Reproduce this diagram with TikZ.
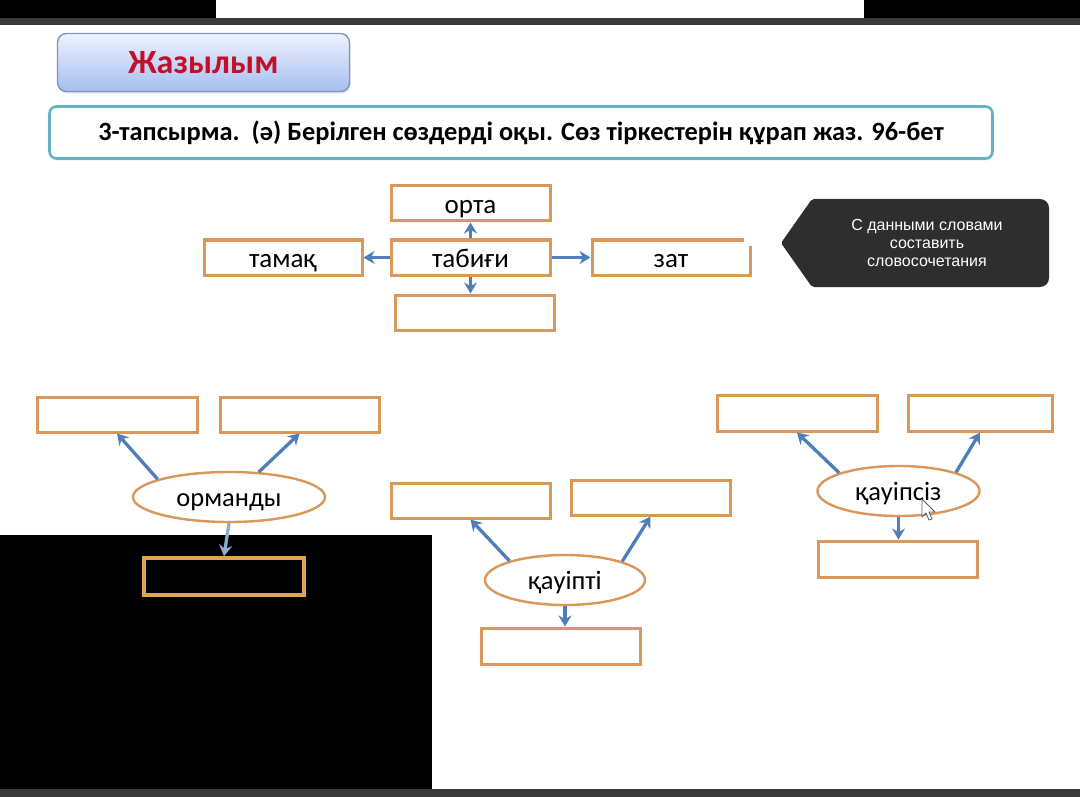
\documentclass[tikz,border=0pt]{standalone}
\usepackage{fontspec}
\setmainfont{Carlito}
\newfontfamily\tipfont{Liberation Sans}
\usetikzlibrary{shapes.geometric,arrows.meta,calc,shadows}
\definecolor{boxor}{HTML}{D9975A}
\definecolor{arrb}{HTML}{4F7FBA}
\definecolor{tipc}{HTML}{2E2E2E}
\definecolor{barc}{HTML}{3A3A3A}
\definecolor{titred}{HTML}{C0102A}
\definecolor{tealb}{HTML}{62B4C4}
\definecolor{gtop}{HTML}{EEF2FC}
\definecolor{gbot}{HTML}{A6BEF0}
\definecolor{gbord}{HTML}{7F95C0}
\tikzset{
  wbox/.style={draw=boxor, line width=3pt, fill=white, minimum width=159pt, minimum height=35pt, inner sep=0pt, text height=21pt, text depth=1pt, font=\fontsize{27}{29}\selectfont},
  oval/.style={ellipse, draw=boxor, line width=2.4pt, fill=white, inner sep=0pt, text height=20pt, text depth=2pt, font=\fontsize{26.5}{28}\selectfont},
  arr/.style={draw=arrb, line width=3.3pt, -{Stealth[length=11pt,width=13pt]}},
}
\begin{document}
\begin{tikzpicture}[x=1pt,y=-1pt]
\useasboundingbox (0,0) rectangle (1080,797);
\fill[white] (0,0) rectangle (1080,797);
% top bars
\fill[black] (0,0) rectangle (216,18);
\fill[black] (864,0) rectangle (1080,18);
\fill[barc] (0,18) rectangle (1080,25);
\fill[barc] (0,789) rectangle (1080,797);
% title box
\node[draw=gbord, line width=1.4pt, rounded corners=9pt, top color=gtop, bottom color=gbot, minimum width=292pt, minimum height=58pt, inner sep=0pt, drop shadow={opacity=0.25, shadow xshift=1pt, shadow yshift=-2pt}, font=\fontsize{34}{36}\selectfont\bfseries, text=titred] (title) at (203.5,62.5) {Жазылым};
% task box
\node[draw=tealb, line width=2.6pt, rounded corners=7pt, fill=white, minimum width=943pt, minimum height=52pt, inner sep=0pt, drop shadow={opacity=0.2, shadow xshift=1pt, shadow yshift=-2pt}, font=\fontsize{26.4}{28}\selectfont\bfseries] (task) at (521,132.5) {3-тапсырма.\ \ (ә) Берілген сөздерді оқы. Сөз тіркестерін құрап жаз. 96-бет};
% top diagram
\node[wbox] (orta) at (470.5,203.5) {орта};
\node[wbox] (tab) at (470.5,257.5) {табиғи};
\node[wbox, minimum width=158pt] (tam) at (283,257.5) {тамақ};
\node[wbox, minimum width=158pt] (zat) at (671,257.5) {зат};
\fill[white] (744,236) rectangle (753,246);
\node[wbox] (te) at (474.5,312.5) {};
\draw[arr] (tab.north) -- (orta.south);
\draw[arr] (tab.west) -- (tam.east);
\draw[arr] (tab.east) -- (zat.west);
\draw[arr] (tab.south) -- (te.north -| tab.south);
% tooltip
\fill[tipc, rounded corners=2pt] (781,243) -- (812,199) [rounded corners=9pt] -- (1049,199) -- (1049,287) [rounded corners=2pt] -- (812,287) -- cycle;
\node[text=white, align=center, font=\tipfont\fontsize{16}{18}\selectfont] (tip) at (927,243) {С данными словами\\составить\\словосочетания};
% left group
\node[wbox, minimum width=160pt] (l1) at (117,414.5) {};
\node[wbox] (l2) at (299.5,414.5) {};
\node[oval, minimum width=192pt, minimum height=50pt] (orm) at (229,497) {орманды};
\draw[arr] (orm.166) -- (l1.south);
\draw[arr] (orm.40) -- (l2.south);
% black region
\fill[black] (0,535) rectangle (432,789);
\node[wbox, fill=black, minimum width=160pt, minimum height=37pt, line width=3.6pt, draw=boxor!85!yellow] (l3) at (224,576.5) {};
\draw[arr, draw=arrb!65!white] (orm.south) -- (l3.north);
% middle group
\node[wbox] (m1) at (470.5,500.5) {};
\node[wbox] (m2) at (650.5,497.5) {};
\node[oval, minimum width=160pt, minimum height=50pt] (qau) at (565,580) {қауіпті};
\node[wbox, minimum height=36pt] (m3) at (560.5,646) {};
\draw[arr] (qau.161) -- (m1.south);
\draw[arr] (qau.18) -- (m2.south);
\draw[arr] (qau.south) -- (qau.south |- m3.north);
% right group
\node[wbox, minimum width=160pt, minimum height=36pt] (r1) at (797,413) {};
\node[wbox, minimum width=144pt, minimum height=36pt] (r2) at (980,413) {};
\node[oval, minimum width=162pt, minimum height=50pt] (qsz) at (898.5,491) {қауіпсіз};
\node[wbox, minimum height=36pt] (r3) at (897.5,559) {};
\draw[arr] (qsz.163) -- (r1.south);
\draw[arr] (qsz.18) -- (r2.south);
\draw[arr] (qsz.south) -- (qsz.south |- r3.north);
% mouse cursor
\filldraw[fill=white, draw=gray!70!black, line width=0.8pt, line join=round] (922,499) -- (922,517) -- (926,513) -- (929,520) -- (932,519) -- (929,512) -- (935,512) -- cycle;
\end{tikzpicture}
\end{document}
